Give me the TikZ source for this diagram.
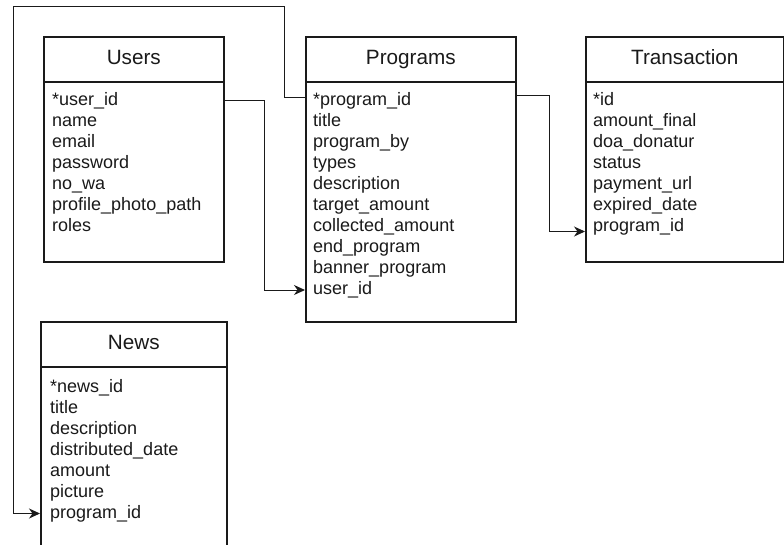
\documentclass[tikz,border=0pt]{standalone}
\usepackage{fontspec}
\setmainfont{Liberation Sans}
\usetikzlibrary{arrows.meta,calc}
\definecolor{ink}{HTML}{1A1A1A}
\begin{document}
\begin{tikzpicture}[x=1pt,y=-1pt,
  hdr/.style={draw=ink, line width=1.6pt, fill=white, inner sep=0pt, anchor=north west, font=\fontsize{20.7}{24}\selectfont, text=ink, text height=15pt, text depth=4pt},
  bodybox/.style={draw=ink, line width=1.6pt, fill=white, inner sep=0pt, anchor=north west},
  row/.style={anchor=west, inner sep=0pt, text height=13pt, text depth=4pt, font=\fontsize{18}{21}\selectfont, text=ink},
  link/.style={draw=ink, line width=1pt, -{Stealth[length=11pt,width=10pt,inset=3.5pt]}}
]
\useasboundingbox (0,0) rectangle (784,544);
\clip (0,0) rectangle (784,544);

% Users
\node[bodybox, minimum width=180pt, minimum height=180pt] (usersb) at (43,81) {};
\node[hdr, minimum width=180pt, minimum height=45pt] (users) at (43,36) {Users};
\foreach [count=\i] \t in {*user\_id,name,email,password,no\_wa,profile\_photo\_path,roles}
  \node[row] (u\i) at (52,{101+21*(\i-1)}) {\t};

% Programs
\node[bodybox, minimum width=210pt, minimum height=240pt] (progb) at (305,81) {};
\node[hdr, minimum width=210pt, minimum height=45pt] (prog) at (305,36) {Programs};
\foreach [count=\i] \t in {*program\_id,title,program\_by,types,description,target\_amount,collected\_amount,end\_program,banner\_program,user\_id}
  \node[row] (p\i) at (313,{101+21*(\i-1)}) {\t};

% Transaction
\node[bodybox, minimum width=198pt, minimum height=180pt] (transb) at (585,81) {};
\node[hdr, minimum width=198pt, minimum height=45pt] (trans) at (585,36) {Transaction};
\foreach [count=\i] \t in {*id,amount\_final,doa\_donatur,status,payment\_url,expired\_date,program\_id}
  \node[row] (t\i) at (593,{101+21*(\i-1)}) {\t};

% News
\node[bodybox, minimum width=186pt, minimum height=200pt] (newsb) at (40,366) {};
\node[hdr, minimum width=186pt, minimum height=45pt] (news) at (40,321) {News};
\foreach [count=\i] \t in {*news\_id,title,description,distributed\_date,amount,picture,program\_id}
  \node[row] (n\i) at (50,{387.5+21*(\i-1)}) {\t};

% connectors
\coordinate (k1) at (264,0);
\coordinate (k2) at (549,0);
\coordinate (k3) at (284,6);
\coordinate (k4) at (13,6);
\draw[link] ($(usersb.east |- u1)+(0,-1)$) -| (k1 |- p10) -- (progb.west |- p10);
\draw[link] ($(progb.east |- p1)+(0,-6)$) -| (k2 |- t7.base) -- (transb.west |- t7.base);
\draw[link] ($(progb.west |- p1)+(0,-4)$) -| (k3) -- (k4) |- (newsb.west |- n7);
\end{tikzpicture}
\end{document}
